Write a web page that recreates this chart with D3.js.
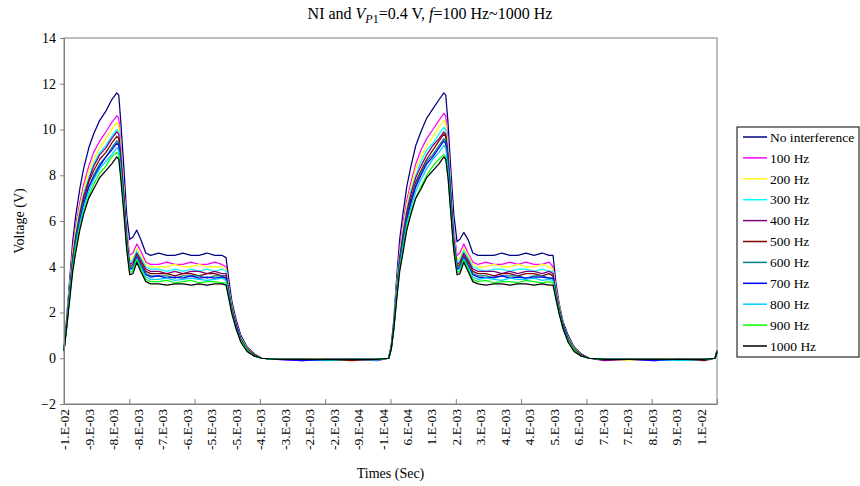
<!DOCTYPE html>
<html>
<head>
<meta charset="utf-8">
<script src="https://cdn.jsdelivr.net/npm/d3@7"></script>
<style>
body { margin:0; background:#fff; }
svg, svg text { font-family:"Liberation Serif", "Times New Roman", "DejaVu Serif", serif !important; }
text { fill:#000; }
</style>
</head>
<body>
<div id="chart-area"></div>
<script>
// time of each sample (ms)
var times = [
  -10.00,-9.92,-9.82,-9.73,-9.64,-9.51,-9.39,-9.23,-9.08,-8.89,
  -8.70,-8.52,-8.36,-8.30,-8.24,-8.14,-8.05,-7.96,-7.86,-7.74,
  -7.62,-7.46,-7.31,-7.06,-6.81,-6.56,-6.31,-6.06,-5.81,-5.56,
  -5.32,-5.10,-4.97,-4.88,-4.79,-4.66,-4.51,-4.32,-4.10,-3.86,
  -3.39,-2.61,-1.83,-1.06,-0.28,
  0.08,0.16,
  0.24,0.33,0.42,0.52,0.64,0.77,0.92,1.08,1.26,
  1.45,1.64,1.79,1.85,1.92,2.01,2.10,2.20,2.29,2.41,
  2.54,2.69,2.85,3.10,3.35,3.59,3.84,4.09,4.34,4.59,
  4.84,5.06,5.18,5.27,5.37,5.49,5.65,5.83,6.05,6.30,
  6.76,7.54,8.32,9.10,9.87,
  10.21,10.27
];

var seriesNames = ["No interference", "100 Hz", "200 Hz", "300 Hz", "400 Hz", "500 Hz",
                   "600 Hz", "700 Hz", "800 Hz", "900 Hz", "1000 Hz"];

var noInterference = [
  0.4,1.7,3.5,5.1,6.2,7.4,8.3,9.2,9.8,10.4, 10.8,11.3,11.6,11.5,10.4,8.3,6.2,5.2,5.3,5.6,
  5.2,4.6,4.5,4.6,4.5,4.5,4.6,4.5,4.5,4.6, 4.5,4.5,4.4,3.4,2.5,1.7,1.0,0.5,0.2,0.0, -0.05,-0.05,-0.08,-0.05,-0.05,
  0.0,0.6, 1.7,3.6,5.2,6.3,7.5,8.4,9.3,9.9,10.5, 10.9,11.3,11.6,11.5,10.3,8.2,6.3,5.1,5.2,5.5,
  5.2,4.6,4.5,4.5,4.5,4.6,4.5,4.5,4.6,4.5, 4.6,4.5,4.5,3.3,2.4,1.6,1.0,0.5,0.2,0.0, -0.05,-0.05,-0.05,-0.08,-0.05, 0.0,0.35
];
var hz100 = [
  0.38,1.6,3.3,4.8,5.8,6.8,7.6,8.4,9.0,9.5, 9.9,10.3,10.6,10.5,9.4,7.5,5.6,4.5,4.6,5.0,
  4.7,4.2,4.1,4.1,4.2,4.1,4.1,4.2,4.1,4.1, 4.2,4.1,4.0,3.1,2.3,1.6,0.9,0.45,0.15,0.0, -0.05,-0.1,-0.05,-0.05,-0.08,
  0.0,0.55, 1.6,3.3,4.8,5.9,6.9,7.7,8.5,9.1,9.6, 10.0,10.4,10.7,10.6,9.5,7.6,5.6,4.5,4.6,5.0,
  4.6,4.2,4.1,4.2,4.1,4.1,4.2,4.1,4.2,4.1, 4.1,4.2,4.0,3.1,2.3,1.5,0.9,0.45,0.15,0.0, -0.05,-0.05,-0.1,-0.05,-0.05, 0.0,0.32
];
var hz200 = [
  0.37,1.55,3.2,4.6,5.6,6.6,7.4,8.2,8.7,9.2, 9.6,10.0,10.3,10.2,9.2,7.4,5.4,4.3,4.4,4.8,
  4.5,4.1,4.0,4.0,4.0,4.1,4.0,4.0,4.1,4.0, 4.0,4.0,3.9,3.0,2.3,1.5,0.9,0.45,0.15,0.0, -0.05,-0.05,-0.05,-0.1,-0.05,
  0.0,0.5, 1.55,3.2,4.6,5.7,6.7,7.5,8.3,8.8,9.3, 9.7,10.1,10.4,10.3,9.3,7.4,5.4,4.3,4.4,4.8,
  4.5,4.1,4.0,4.0,4.1,4.0,4.0,4.1,4.0,4.0, 4.1,4.0,3.9,3.0,2.3,1.5,0.9,0.45,0.15,0.0, -0.05,-0.08,-0.05,-0.05,-0.05, 0.0,0.3
];
var hz300 = [
  0.36,1.5,3.1,4.4,5.4,6.4,7.2,7.9,8.5,9.0, 9.3,9.7,10.0,9.9,9.0,7.2,5.3,4.2,4.3,4.7,
  4.4,4.0,3.9,3.9,3.8,3.9,3.8,3.9,3.8,3.9, 3.8,3.9,3.8,2.9,2.2,1.5,0.85,0.4,0.15,0.0, -0.05,-0.05,-0.1,-0.05,-0.05,
  0.0,0.5, 1.5,3.1,4.5,5.5,6.5,7.3,8.0,8.6,9.1, 9.4,9.8,10.1,10.0,9.1,7.2,5.3,4.2,4.3,4.7,
  4.4,4.0,3.9,3.8,3.9,3.9,3.8,3.9,3.9,3.8, 3.9,3.8,3.8,2.9,2.2,1.5,0.85,0.4,0.15,0.0, -0.05,-0.05,-0.05,-0.05,-0.1, 0.0,0.3
];
var hz400 = [
  0.36,1.5,3.0,4.4,5.3,6.3,7.1,7.8,8.4,8.9, 9.2,9.6,9.9,9.8,8.9,7.1,5.2,4.1,4.2,4.6,
  4.3,3.9,3.8,3.8,3.7,3.8,3.7,3.8,3.8,3.7, 3.8,3.7,3.7,2.9,2.2,1.5,0.85,0.4,0.15,0.0, -0.05,-0.05,-0.05,-0.05,-0.1,
  0.0,0.5, 1.5,3.0,4.4,5.4,6.4,7.2,7.9,8.4,8.9, 9.3,9.6,9.9,9.8,8.9,7.1,5.2,4.1,4.2,4.6,
  4.3,3.9,3.8,3.8,3.8,3.7,3.8,3.7,3.8,3.8, 3.7,3.8,3.7,2.9,2.2,1.5,0.85,0.4,0.15,0.0, -0.1,-0.05,-0.05,-0.05,-0.05, 0.0,0.3
];
var hz500 = [
  0.35,1.45,2.9,4.3,5.2,6.2,6.9,7.7,8.2,8.7, 9.0,9.4,9.7,9.6,8.7,7.0,5.1,4.0,4.1,4.5,
  4.2,3.8,3.7,3.7,3.7,3.6,3.7,3.7,3.6,3.7, 3.7,3.6,3.6,2.8,2.1,1.45,0.8,0.4,0.15,0.0, -0.05,-0.05,-0.05,-0.1,-0.05,
  0.0,0.45, 1.45,2.9,4.3,5.2,6.2,7.0,7.7,8.2,8.7, 9.1,9.5,9.8,9.7,8.8,7.0,5.1,4.0,4.1,4.5,
  4.2,3.8,3.7,3.7,3.6,3.7,3.7,3.6,3.7,3.7, 3.6,3.7,3.6,2.8,2.1,1.45,0.8,0.4,0.15,0.0, -0.05,-0.05,-0.05,-0.05,-0.1, 0.0,0.3
];
var hz600 = [
  0.35,1.4,2.9,4.2,5.1,6.1,6.8,7.5,8.0,8.5, 8.8,9.2,9.5,9.4,8.5,6.8,5.0,3.95,4.0,4.45,
  4.1,3.7,3.6,3.6,3.6,3.5,3.6,3.6,3.6,3.5, 3.6,3.6,3.5,2.8,2.1,1.4,0.8,0.4,0.1,0.0, -0.05,-0.05,-0.08,-0.05,-0.05,
  0.0,0.45, 1.4,2.9,4.2,5.1,6.1,6.8,7.6,8.1,8.6, 8.9,9.3,9.6,9.5,8.6,6.9,5.0,3.95,4.0,4.45,
  4.1,3.7,3.6,3.6,3.5,3.6,3.6,3.6,3.5,3.6, 3.6,3.5,3.5,2.8,2.1,1.4,0.8,0.4,0.1,0.0, -0.05,-0.05,-0.05,-0.05,-0.05, 0.0,0.28
];
var hz700 = [
  0.34,1.4,2.8,4.1,5.0,6.0,6.7,7.5,7.9,8.4, 8.8,9.1,9.4,9.3,8.5,6.8,4.9,3.9,3.95,4.4,
  4.05,3.65,3.55,3.6,3.5,3.55,3.5,3.6,3.5,3.55, 3.5,3.55,3.5,2.7,2.05,1.4,0.8,0.35,0.1,0.0, -0.05,-0.1,-0.05,-0.05,-0.05,
  0.0,0.45, 1.4,2.8,4.1,5.0,6.0,6.8,7.5,8.0,8.5, 8.8,9.2,9.5,9.4,8.5,6.8,4.9,3.9,3.95,4.4,
  4.05,3.65,3.55,3.5,3.55,3.6,3.5,3.55,3.5,3.55, 3.55,3.5,3.5,2.7,2.05,1.4,0.8,0.35,0.1,0.0, -0.05,-0.05,-0.1,-0.05,-0.05, 0.0,0.28
];
var hz800 = [
  0.34,1.35,2.8,4.0,4.9,5.9,6.6,7.3,7.8,8.3, 8.6,8.9,9.2,9.1,8.3,6.6,4.8,3.85,3.9,4.35,
  4.0,3.55,3.45,3.45,3.5,3.4,3.45,3.5,3.45,3.4, 3.45,3.5,3.4,2.7,2.0,1.35,0.75,0.35,0.1,0.0, -0.05,-0.05,-0.05,-0.05,-0.08,
  0.0,0.45, 1.35,2.8,4.0,4.9,5.9,6.6,7.3,7.8,8.3, 8.7,9.0,9.3,9.2,8.3,6.6,4.8,3.85,3.9,4.35,
  4.0,3.55,3.45,3.5,3.45,3.4,3.5,3.45,3.45,3.5, 3.4,3.45,3.4,2.7,2.0,1.35,0.75,0.35,0.1,0.0, -0.05,-0.05,-0.05,-0.1,-0.05, 0.0,0.28
];
var hz900 = [
  0.33,1.3,2.7,3.9,4.8,5.7,6.4,7.1,7.6,8.1, 8.4,8.8,9.0,8.9,8.1,6.5,4.8,3.75,3.8,4.3,
  3.9,3.45,3.35,3.35,3.4,3.3,3.35,3.4,3.3,3.35, 3.35,3.3,3.3,2.6,2.0,1.3,0.75,0.35,0.1,0.0, -0.05,-0.05,-0.05,-0.05,-0.05,
  0.0,0.4, 1.3,2.7,3.9,4.7,5.7,6.4,7.0,7.5,8.0, 8.4,8.7,8.9,8.8,8.0,6.4,4.7,3.75,3.8,4.3,
  3.9,3.45,3.35,3.4,3.3,3.35,3.35,3.3,3.4,3.35, 3.3,3.35,3.3,2.6,2.0,1.3,0.75,0.35,0.1,0.0, -0.05,-0.05,-0.05,-0.05,-0.05, 0.0,0.28
];
var hz1000 = [
  0.33,1.3,2.6,3.8,4.6,5.6,6.3,7.0,7.4,7.9, 8.2,8.5,8.8,8.7,7.9,6.3,4.7,3.65,3.7,4.2,
  3.8,3.35,3.25,3.25,3.2,3.25,3.25,3.2,3.25,3.2, 3.25,3.25,3.2,2.6,1.95,1.3,0.7,0.3,0.1,0.0, -0.05,-0.05,-0.05,-0.05,-0.05,
  0.0,0.4, 1.3,2.6,3.8,4.6,5.6,6.3,7.0,7.4,7.9, 8.2,8.5,8.8,8.7,7.9,6.3,4.7,3.65,3.7,4.2,
  3.8,3.35,3.25,3.2,3.25,3.25,3.2,3.25,3.25,3.2, 3.25,3.2,3.2,2.6,1.95,1.3,0.7,0.3,0.1,0.0, -0.05,-0.05,-0.05,-0.05,-0.05, 0.0,0.28
];

var xLabels = ["-1.E-02","-9.E-03","-8.E-03","-8.E-03","-7.E-03","-6.E-03","-5.E-03","-5.E-03",
               "-4.E-03","-3.E-03","-2.E-03","-2.E-03","-9.E-04","-1.E-04","6.E-04","1.E-03",
               "2.E-03","3.E-03","4.E-03","4.E-03","5.E-03","6.E-03","7.E-03","7.E-03",
               "8.E-03","9.E-03","1.E-02"];
var yTicks = [-2, 0, 2, 4, 6, 8, 10, 12, 14];

// styles
var seriesColors = ["#000080","#ff00ff","#ffff00","#00ffff","#800080","#800000",
                    "#008080","#0000ff","#00ccff","#00ff00","#000000"];

var allSeries = [noInterference, hz100, hz200, hz300, hz400, hz500, hz600, hz700, hz800, hz900, hz1000];

var serif = "'Liberation Serif', 'Times New Roman', serif";

var margin = { left:64, top:38 };
var width = 653, height = 366;

var svg = d3.select("#chart-area")
            .append("svg")
                .attr("width", 860)
                .attr("height", 486)
                .attr("font-family", serif);

var g = svg.append("g")
           .attr("transform", "translate(" + margin.left + ", " + margin.top + ")");

// X Scale (ms)
var x = d3.scaleLinear()
    .domain([-10, 10.27])
    .range([0, width]);

// Y Scale
var y = d3.scaleLinear()
    .domain([-2, 14])
    .range([height, 0]);

// plot frame
g.append("rect")
    .attr("width", width)
    .attr("height", height)
    .attr("fill", "none")
    .attr("stroke", "#808080")
    .attr("stroke-width", 1);

// lines
var line = d3.line()
    .x((d, i) => x(times[i]))
    .y((d) => y(d));

allSeries.forEach((s, k) => {
    g.append("path")
        .datum(s)
        .attr("fill", "none")
        .attr("stroke", seriesColors[k])
        .attr("stroke-width", 1.25)
        .attr("stroke-linejoin", "round")
        .attr("d", line);
});

// Y Axis
var yAxisCall = d3.axisLeft(y)
    .tickValues(yTicks)
    .tickSize(4)
    .tickPadding(4);
var yAxisGroup = g.append("g").attr("class", "y axis").call(yAxisCall)
    .attr("font-family", serif);
yAxisGroup.select(".domain").attr("stroke", "#808080");
yAxisGroup.selectAll(".tick line").attr("stroke", "#808080");
yAxisGroup.selectAll("text")
    .attr("font-size", "14px");

// X Axis labels (every 0.76 ms)
var labelPos = xLabels.map((d, i) => -10 + i * 0.76);
var xLabelCall = d3.axisBottom(x)
    .tickValues(labelPos)
    .tickFormat((d, i) => xLabels[i])
    .tickSize(0);
var xAxisGroup = g.append("g")
    .attr("class", "x axis")
    .attr("transform", "translate(0," + height + ")")
    .call(xLabelCall)
    .attr("font-family", serif);
xAxisGroup.select(".domain").attr("stroke", "#808080");
xAxisGroup.selectAll("text")
    .attr("font-size", "13.5px")
    .attr("transform", "rotate(-90)")
    .attr("text-anchor", "end")
    .attr("x", -5)
    .attr("y", 0)
    .attr("dy", "0.35em");

// X tick marks
var tickPos = d3.range(0, 11).map((j) => -10 + j * 2.027);
var xTickCall = d3.axisBottom(x)
    .tickValues(tickPos)
    .tickSize(-5)
    .tickFormat("");
var xTickGroup = g.append("g")
    .attr("transform", "translate(0," + height + ")")
    .call(xTickCall);
xTickGroup.select(".domain").remove();
xTickGroup.selectAll(".tick line").attr("stroke", "#808080");

// Title
var title = svg.append("text")
    .attr("x", 430)
    .attr("y", 19)
    .attr("font-size", "16px")
    .attr("text-anchor", "middle");
title.append("tspan").text("NI and ");
title.append("tspan").attr("font-style", "italic").text("V");
title.append("tspan").attr("font-style", "italic").attr("font-size", "12px").attr("dy", 4).text("P");
title.append("tspan").attr("font-size", "12px").text("1");
title.append("tspan").attr("dy", -4).text("=0.4 V, ");
title.append("tspan").attr("font-style", "italic").text("f");
title.append("tspan").text("=100 Hz~1000 Hz");

// X Label
svg.append("text")
    .attr("x", margin.left + width / 2)
    .attr("y", 478)
    .attr("font-size", "14px")
    .attr("text-anchor", "middle")
    .text("Times (Sec)");

// Y Label
svg.append("text")
    .attr("x", -(margin.top + height / 2))
    .attr("y", 24)
    .attr("font-size", "14px")
    .attr("text-anchor", "middle")
    .attr("transform", "rotate(-90)")
    .text("Voltage (V)");

// Legend
var legend = svg.append("g").attr("transform", "translate(737,127)");
legend.append("rect")
    .attr("width", 122)
    .attr("height", 230)
    .attr("fill", "#fff")
    .attr("stroke", "#000")
    .attr("stroke-width", 1);
seriesNames.forEach((name, i) => {
    var row = legend.append("g").attr("transform", "translate(0," + (10 + i * 20.9) + ")");
    row.append("line")
        .attr("x1", 6).attr("x2", 30)
        .attr("y1", 0).attr("y2", 0)
        .attr("stroke", seriesColors[i])
        .attr("stroke-width", 1.5);
    row.append("text")
        .attr("x", 33)
        .attr("y", 0)
        .attr("dy", "0.35em")
        .attr("font-size", "13.5px")
        .text(name);
});

console.log(allSeries.map((s) => s.length), times.length);
</script>
</body>
</html>
